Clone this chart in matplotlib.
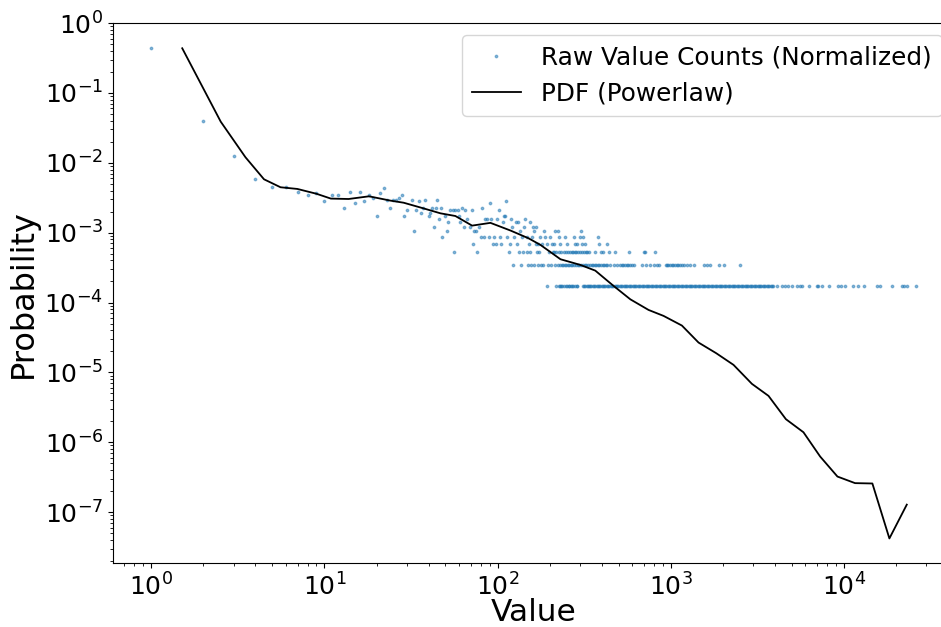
"""
Log-log plot of raw value counts against the fitted powerlaw PDF
"""
import matplotlib
matplotlib.use("Agg")
import matplotlib.pyplot as plt
import numpy as np

# total number of samples (used to normalise the counts)
N_TOTAL = 5728

# small values: value -> count
head_values = [1, 2, 3, 4, 5, 6, 7, 8, 9, 10, 11, 12, 13, 14, 15, 16, 17, 18, 19, 20,
               21, 22, 23, 24, 25, 26, 27, 28, 29, 30, 32, 33, 34, 35, 36, 37, 38, 40,
               41, 42, 43, 44, 45, 46, 47, 48, 50, 51, 52, 53, 55, 56, 57, 59, 60, 61,
               62, 64, 65, 67, 69, 71, 72, 73, 75, 76, 78, 80, 81, 83, 85, 87, 89, 90,
               92, 94, 96, 98, 99]
head_counts = [2489, 227, 72, 33, 26, 26, 22, 20, 21, 16, 20, 20, 13, 22, 15, 22, 16, 20, 18, 10,
               21, 25, 17, 13, 17, 17, 18, 20, 10, 12, 17, 6, 12, 16, 11, 13, 17, 10,
               11, 13, 7, 13, 17, 9, 13, 5, 10, 6, 8, 12, 12, 3, 12, 12, 10, 8,
               13, 7, 12, 9, 7, 12, 4, 6, 6, 3, 7, 5, 13, 5, 9, 9, 5, 15,
               9, 4, 5, 4, 9]

# larger values grouped by how often they occur
count16 = [112]
count12 = [102]
count10 = [109, 111]
count9 = [120, 145]
count8 = [108, 127, 132, 155]
count7 = [121, 143, 160, 167]
count6 = [135, 163, 185, 216, 222, 304]
count5 = [103, 114, 125, 138, 148, 158, 176, 189, 201, 225, 246, 275, 300, 313, 381]
count4 = [105, 118, 130, 151, 166, 171, 181, 193, 206, 211, 231, 253, 281, 288, 306,
          319, 384, 429]
count3 = [116, 133, 140, 147, 153, 169, 174, 197, 209, 213, 219, 227, 233, 241, 249,
          256, 262, 268, 272, 279, 285, 293, 298, 309, 316, 323, 329, 336, 367, 396,
          406, 438, 479, 571, 698, 713, 815]
count2 = [123, 137, 150, 156, 162, 172, 178, 183, 195, 204, 214, 224, 229, 235, 239,
          244, 250, 255, 259, 264, 270, 277, 283, 290, 296, 302, 311, 318, 326, 333,
          341, 349, 357, 365, 372, 380, 388, 397, 404, 413, 421, 428, 448, 469, 490,
          512, 522, 533, 546, 558, 569, 585, 600, 612, 683, 716, 763, 798, 831, 853,
          935, 952, 968, 990, 1012, 1035, 1058, 1083, 1107, 1133, 1160, 1188, 1242,
          1298, 1356, 1549, 1620, 1693, 1891, 2020, 2498]
count1 = [194, 217, 226, 228, 232, 237, 243, 248, 251, 257, 260, 265, 271, 274, 280,
          286, 289, 312, 315, 321, 327, 332, 338, 343, 347, 355, 361, 366, 373, 379,
          386, 393, 399, 407, 412, 420, 427, 435, 442, 450, 457, 466, 474, 482, 491,
          499, 507, 516, 525, 534, 543, 553, 562, 572, 582, 592, 602, 613, 623, 634,
          645, 657, 668, 680, 692, 704, 716, 728, 741, 754, 767, 781, 794, 808, 822,
          837, 851, 866, 881, 897, 912, 928, 944, 961, 978, 995, 1012, 1030, 1048,
          1066, 1085, 1104, 1123, 1143, 1163, 1183, 1204, 1225, 1246, 1268, 1290,
          1313, 1336, 1359, 1383, 1407, 1431, 1456, 1482, 1508, 1534, 1561, 1588,
          1616, 1644, 1673, 1702, 1732, 1762, 1793, 1824, 1856, 1889, 1922, 1955,
          1989, 2024, 2060, 2096, 2132, 2170, 2208, 2246, 2285, 2325, 2366, 2407,
          2450, 2492, 2536, 2580, 2625, 2671, 2718, 2766, 2814, 2863, 2913, 2964,
          3016, 3069, 3122, 3177, 3232, 3289, 3346, 3405, 3464, 3525, 3587, 3650,
          3713, 3778, 3845, 3912, 4107, 4388, 4586, 4791, 5008, 5352, 5593, 5724,
          6334, 6984, 7130, 7530, 8230, 9310, 9610, 10180, 11360, 12140, 13140,
          15490, 16190, 19060, 21610, 22290, 23290, 26030]

# fitted powerlaw pdf (bin centres, density)
pdf_x = [1.51, 2.52, 3.5, 4.48, 5.58, 6.98, 9.0, 10.9, 13.8, 18.1, 24.1, 28.7, 37.0,
         46.8, 57.1, 71.3, 91.0, 119, 151, 177, 231, 301, 367, 465, 585, 745, 910,
         1161, 1449, 1833, 2307, 2946, 3673, 4628, 5846, 7298, 9187, 11610, 14620,
         18330, 23100]
pdf_y = [0.435, 0.0387, 0.012, 0.0058, 0.00446, 0.00422, 0.0036, 0.00307, 0.00303,
         0.00331, 0.00287, 0.00268, 0.00224, 0.00189, 0.00173, 0.00126, 0.00138,
         0.00107, 0.00083, 0.000667, 0.000416, 0.000345, 0.000286, 0.000175,
         0.000111, 7.83e-5, 6.43e-5, 4.68e-5, 2.67e-5, 1.88e-5, 1.28e-5, 6.85e-6,
         4.61e-6, 2.14e-6, 1.39e-6, 6.25e-7, 3.23e-7, 2.6e-7, 2.57e-7, 4.2e-8, 1.28e-7]


def main():
    """
    Build the value/count table and draw it
    """
    groups = {16: count16, 12: count12, 10: count10, 9: count9, 8: count8, 7: count7,
              6: count6, 5: count5, 4: count4, 3: count3, 2: count2, 1: count1}
    values = list(head_values)
    counts = list(head_counts)
    for c, vals in groups.items():
        values += vals
        counts += [c] * len(vals)
    order = np.argsort(values)
    values = np.array(values)[order]
    probs = np.array(counts)[order] / N_TOTAL

    fig = plt.figure(figsize=(9.41, 6.27), dpi=100)
    ax = fig.add_axes([0.1201, 0.1013, 0.8937, 0.862])

    ax.plot(values, probs, '.', markersize=3.5, alpha=0.5, label='Raw Value Counts (Normalized)')
    ax.plot(pdf_x, pdf_y, color='black', linewidth=1.3, label='PDF (Powerlaw)')
    ax.set_xscale('log')
    ax.set_yscale('log')
    ax.set_ylim(10 ** -7.735, 1.0)

    ax.set_xlabel('Value', fontsize=22.5, labelpad=-2)
    ax.set_ylabel('Probability', fontsize=23)
    ax.tick_params(labelsize=18)
    ax.legend(fontsize=17.8, loc='upper right')

    fig.savefig('out.png', dpi=100)


if __name__ == '__main__':
    main()
